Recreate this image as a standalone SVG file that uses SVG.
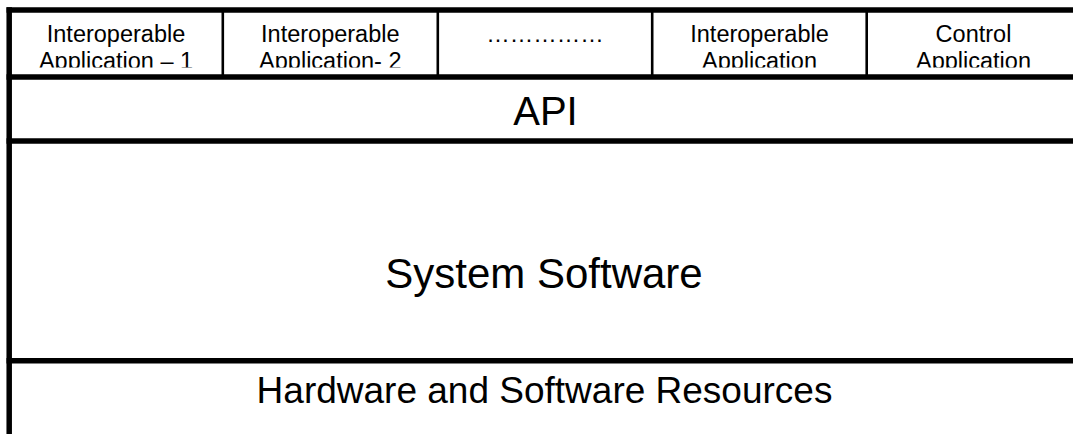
<svg xmlns="http://www.w3.org/2000/svg" width="1073" height="434" viewBox="0 0 1073 434">
  <style>
    .thick { stroke: #000; stroke-width: 5.5; fill: none; }
    .thin { stroke: #000; stroke-width: 2.6; fill: none; }
    .app { font-family: "Liberation Sans", Arial, sans-serif; font-size: 23.5px; text-anchor: middle; fill: #000; }
    .big { font-family: "Liberation Sans", Arial, sans-serif; text-anchor: middle; fill: #000; }
  </style>
  <defs>
    <clipPath id="appclip">
      <rect x="0" y="12" width="1073" height="55.5"/>
    </clipPath>
  </defs>
  <rect x="0" y="0" width="1073" height="434" fill="#fff"/>

  <g id="connectors">
    <line class="thick" x1="6.5" y1="10" x2="1073" y2="10"/>
    <line class="thick" x1="9.2" y1="7.3" x2="9.2" y2="434"/>
    <line class="thick" x1="6.5" y1="77" x2="1073" y2="77"/>
    <line class="thick" x1="6.5" y1="141" x2="1073" y2="141"/>
    <line class="thick" x1="6.5" y1="360.8" x2="1073" y2="360.8"/>
    <line class="thin" x1="222.8" y1="10" x2="222.8" y2="77"/>
    <line class="thin" x1="437.8" y1="10" x2="437.8" y2="77"/>
    <line class="thin" x1="652.2" y1="10" x2="652.2" y2="77"/>
    <line class="thin" x1="866.7" y1="10" x2="866.7" y2="77"/>
  </g>

  <g id="app1" clip-path="url(#appclip)">
    <text class="app" x="116" y="41.7">Interoperable</text>
    <text class="app" x="116" y="69">Application – 1</text>
  </g>
  <g id="app2" clip-path="url(#appclip)">
    <text class="app" x="330.3" y="41.7">Interoperable</text>
    <text class="app" x="330.3" y="69">Application- 2</text>
  </g>
  <g id="app-dots" clip-path="url(#appclip)">
    <text class="app" x="545" y="41.7">……………</text>
  </g>
  <g id="app-n" clip-path="url(#appclip)">
    <text class="app" x="759.5" y="41.7">Interoperable</text>
    <text class="app" x="759.5" y="69">Application</text>
  </g>
  <g id="control-app" clip-path="url(#appclip)">
    <text class="app" x="973.5" y="41.7">Control</text>
    <text class="app" x="973.5" y="69">Application</text>
  </g>

  <g id="api">
    <text class="big" x="545.5" y="124.5" font-size="40">API</text>
  </g>
  <g id="system-software">
    <text class="big" x="544" y="288" font-size="42">System Software</text>
  </g>
  <g id="resources">
    <text class="big" x="544.5" y="403.3" font-size="37">Hardware and Software Resources</text>
  </g>
</svg>
